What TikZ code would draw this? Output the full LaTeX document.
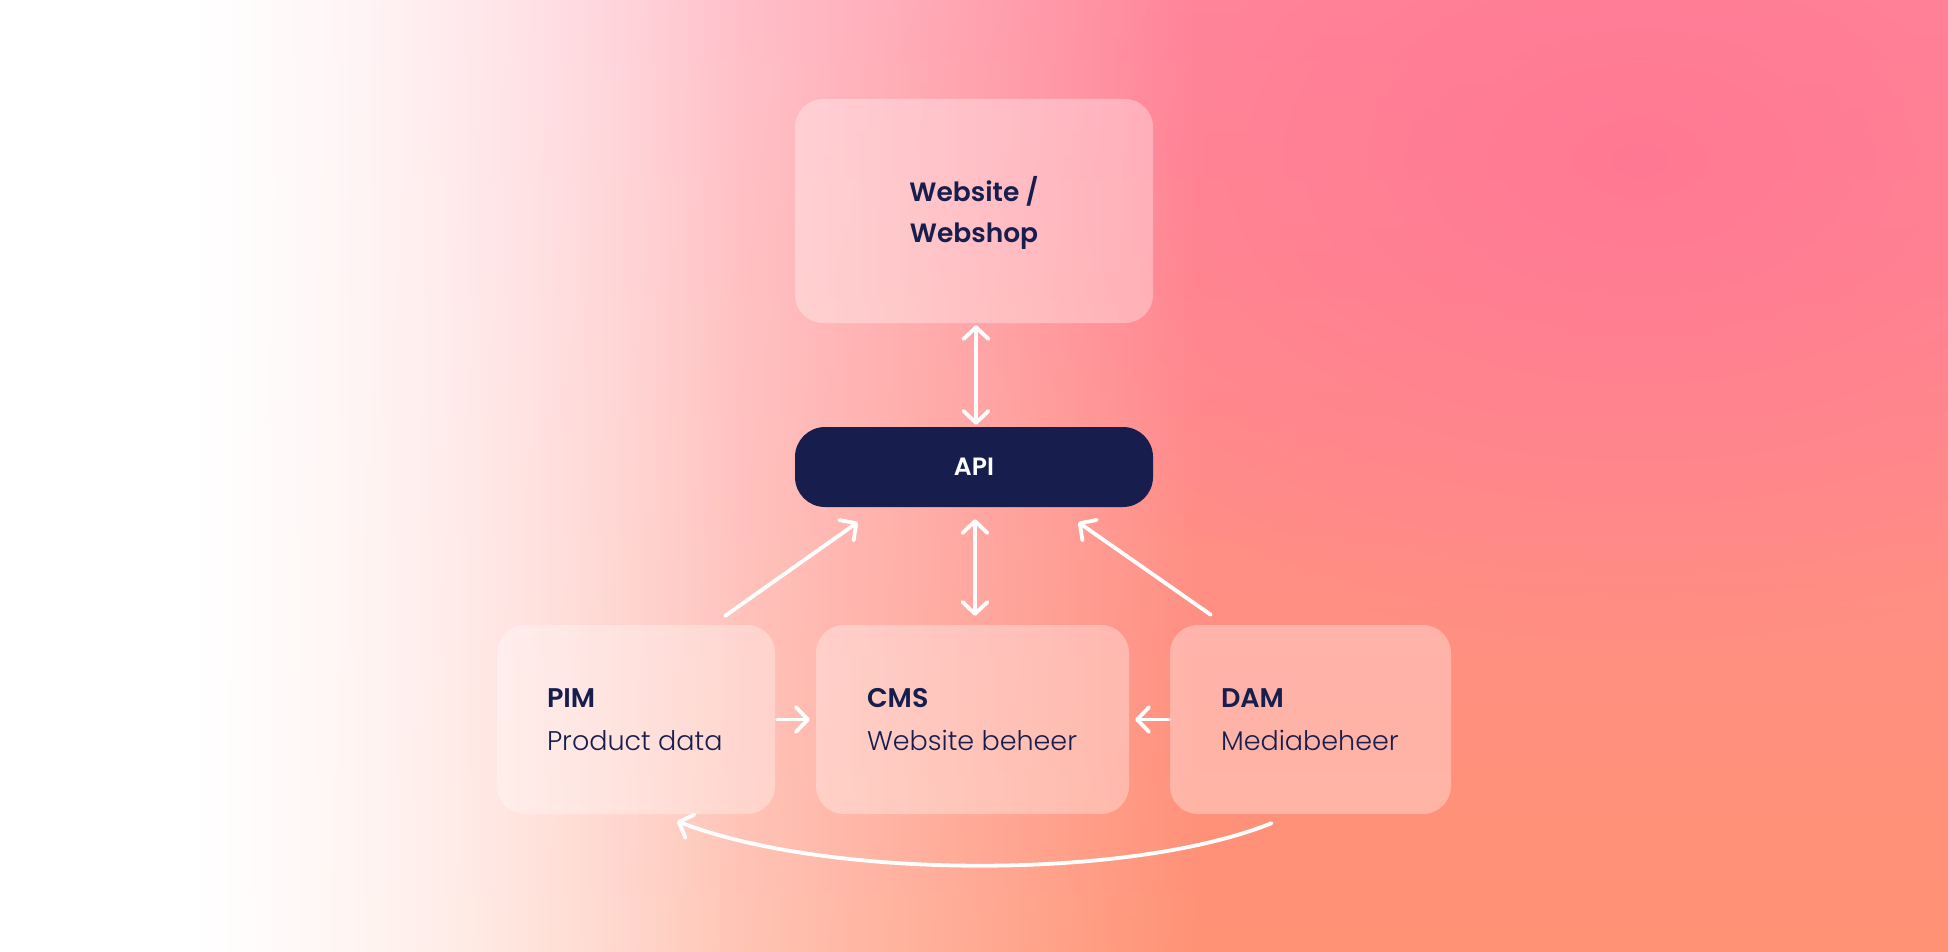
\documentclass[tikz,border=0pt]{standalone}
\usepackage{fontspec}
\setmainfont{Poppins}[BoldFont={Poppins SemiBold}]
\newfontfamily\poplight{Poppins Light}
\usetikzlibrary{arrows.meta,fadings,calc}
\definecolor{navy}{HTML}{171E4D}
\definecolor{bgtop}{HTML}{FF8A9C}
\definecolor{bgmid}{HTML}{FF8382}
\definecolor{bgbot}{HTML}{FF9274}
\definecolor{pinkspot}{HTML}{FF7593}
\tikzfading[name=radfade, inner color=transparent!0, outer color=transparent!100]
\tikzset{
  card/.style={fill=white, fill opacity=0.32, rounded corners=28pt, inner sep=0pt, draw=none},
  apibox/.style={fill=navy, rounded corners=30pt, inner sep=0pt, minimum width=358pt, minimum height=80pt,
    font=\fontsize{25}{30}\selectfont\bfseries, text=white},
  title/.style={font=\fontsize{26.5}{41}\selectfont\bfseries, text=navy, align=center, inner sep=0pt},
  label/.style={font=\fontsize{27}{43}\selectfont\poplight, text=navy, align=left, inner sep=0pt, anchor=west},
  link/.style={draw=white, line width=3.8pt, line cap=round},
  tipb/.tip={Straight Barb[length=12pt,width=25pt,line cap=round,line join=round]}
}
\begin{document}
\begin{tikzpicture}[x=1pt,y=-1pt]
\useasboundingbox (0,0) rectangle (1948,952);
% background
\begin{scope}
\clip (0,0) rectangle (1948,952);
\shade[top color=bgtop, middle color=bgmid, bottom color=bgbot] (0,0) rectangle (1948,952);
\fill[pinkspot, fill opacity=0.85, path fading=radfade] (1640,160) ellipse (760 and 480);
\fill[white] (0,0) rectangle (200,952);
\fill[white, path fading=east] (200,0) rectangle (1200,952);
\fill[white, fill opacity=0.6, path fading=east] (200,0) rectangle (750,952);
\end{scope}

% boxes
\node[card, minimum width=358pt, minimum height=224pt] (web) at (974,211) {};
\node[apibox] (api) at (974,467) {API};
\node[card, minimum width=278pt, minimum height=189pt] (pim) at (636,719.5) {};
\node[card, minimum width=313pt, minimum height=189pt] (cms) at (972.5,719.5) {};
\node[card, minimum width=281pt, minimum height=189pt] (dam) at (1310.5,719.5) {};

% texts
\node[title] (webt) at ($(web.center)+(0,2)$) {Website /\\Webshop};
\node[label] (pimt) at ($(pim.west)+(50,0)$) {{\rmfamily\bfseries PIM}\\Product data};
\node[label] (cmst) at ($(cms.west)+(51,0)$) {{\rmfamily\bfseries CMS}\\Website beheer};
\node[label] (damt) at ($(dam.west)+(51,0)$) {{\rmfamily\bfseries DAM}\\Mediabeheer};

% connectors
\draw[link, {tipb}-{tipb}] ($(web.south)+(2,2)$) -- ($(api.north)+(2,-2)$);
\draw[link, {tipb}-{tipb}] ($(api.south)+(1,12)$) -- ($(cms.north)+(2.5,-9)$);
\draw[link, -{tipb}] ($(pim.north east)+(-50,-9)$) -- ($(api.south west)+(63,15)$);
\draw[link, -{tipb}] ($(dam.north west)+(41,-10)$) -- ($(api.south east)+(-75,15)$);
\draw[link, -{tipb}] ($(pim.east)+(2,0)$) -- ($(cms.west)+(-6,0)$);
\draw[link, -{tipb}] ($(dam.west)+(-1,0)$) -- ($(cms.east)+(6,0)$);
\draw[link, -{tipb}] ($(dam.south)+(-39,9)$) .. controls (1130,880) and (830,880) .. ($(pim.south)+(41,7)$);
\end{tikzpicture}
\end{document}
